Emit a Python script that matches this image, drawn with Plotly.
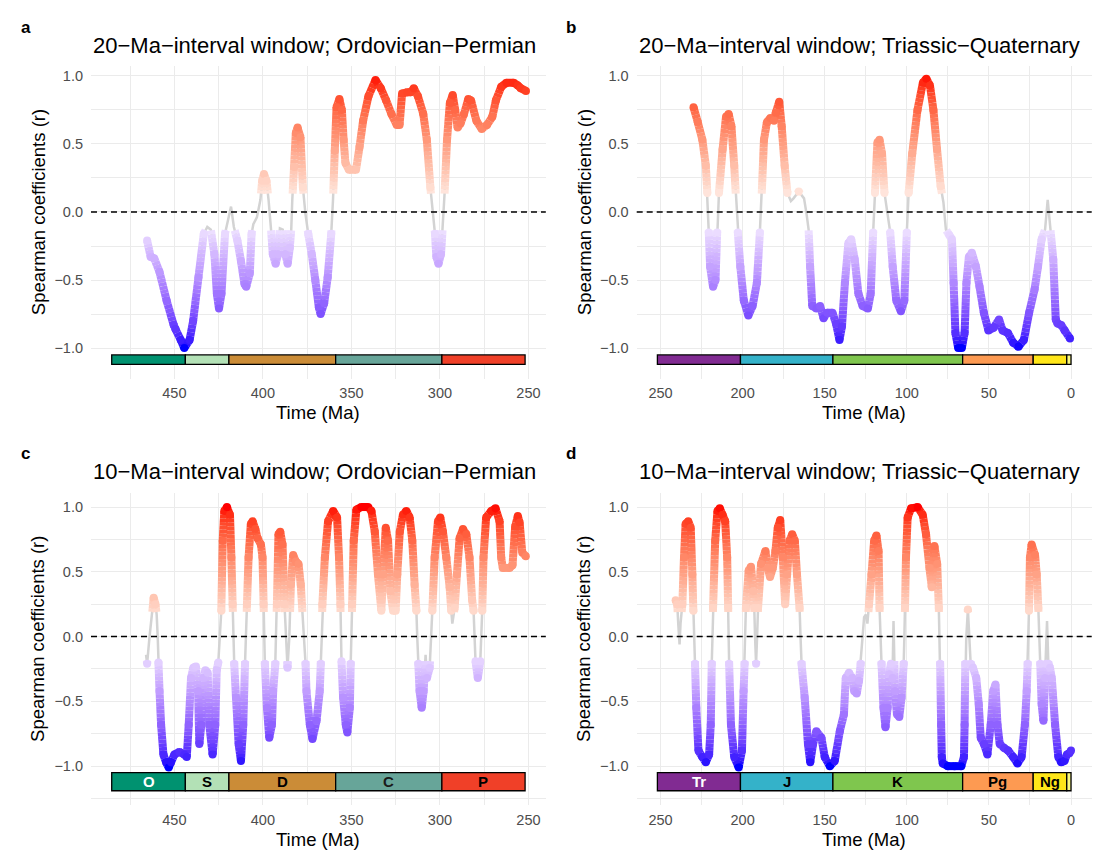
import math
import plotly.graph_objects as go

# ---------------- data ----------------
A_TIME = [465.4, 463.4, 461.4, 458.4, 454.4, 450.4, 449.4, 446.4, 444.4, 441.4, 439.4, 436.4, 433.4, 431.4,
          429.4, 427.4, 426.0, 424.8, 423.4, 421.4, 419.4, 418.0, 416.4, 414.4, 412.4, 410.4, 409.4, 407.4,
          406.4, 405.4, 403.4, 401.4, 400.4, 399.4, 398.0, 396.8, 395.4, 394.4, 392.8, 391.4, 390.4, 388.8,
          387.4, 386.0, 384.8, 384.0, 383.4, 382.4, 381.4, 380.4, 378.8, 377.4, 376.0, 374.4, 372.4, 370.4,
          368.4, 367.4, 365.4, 363.4, 361.4, 360.4, 359.4, 358.4, 356.8, 355.4, 354.4, 353.4, 351.4, 347.4,
          345.4, 343.4, 340.4, 336.4, 333.4, 330.4, 327.4, 324.4, 322.8, 321.4, 318.4, 316.4, 314.8, 312.4,
          309.4, 307.4, 305.4, 304.0, 302.8, 302.0, 300.8, 299.4, 298.4, 297.4, 296.0, 294.4, 292.8, 291.4,
          290.0, 288.4, 286.4, 284.0, 282.4, 279.4, 276.4, 273.4, 270.4, 268.4, 265.4, 262.4, 258.4, 256.0,
          254.4, 251.4]
A_R = [-0.21, -0.33, -0.34, -0.44, -0.65, -0.83, -0.86, -0.94, -1.00, -0.94, -0.80, -0.48, -0.16, -0.11,
       -0.13, -0.31, -0.60, -0.71, -0.60, -0.16, -0.04, 0.04, -0.11, -0.21, -0.36, -0.53, -0.55, -0.45,
       -0.16, -0.09, -0.04, 0.09, 0.23, 0.28, 0.23, 0.09, -0.13, -0.31, -0.38, -0.31, -0.12, -0.13,
       -0.31, -0.38, -0.26, -0.13, 0.09, 0.33, 0.58, 0.62, 0.55, 0.18, -0.01, -0.16, -0.31, -0.50,
       -0.70, -0.75, -0.67, -0.48, -0.16, 0.09, 0.45, 0.77, 0.83, 0.75, 0.53, 0.36, 0.31, 0.31,
       0.48, 0.67, 0.85, 0.97, 0.91, 0.82, 0.72, 0.64, 0.64, 0.87, 0.88, 0.88, 0.91, 0.85,
       0.72, 0.53, 0.18, -0.01, -0.16, -0.33, -0.38, -0.31, -0.11, 0.13, 0.53, 0.80, 0.86, 0.75,
       0.62, 0.65, 0.72, 0.83, 0.82, 0.67, 0.61, 0.64, 0.70, 0.82, 0.92, 0.95, 0.95, 0.93,
       0.91, 0.89]

B_TIME = [229.9, 227.3, 224.5, 222.4, 221.5, 220.6, 219.8, 218.0, 216.5, 215.5, 214.4, 212.2, 210.1, 208.5,
          206.8, 205.1, 204.0, 202.9, 201.4, 199.3, 196.5, 193.9, 191.3, 189.5, 188.5, 187.0, 185.2, 183.1,
          180.9, 179.8, 177.7, 176.2, 174.4, 172.7, 170.6, 169.0, 165.8, 162.6, 161.1, 159.8, 158.9, 157.6,
          155.0, 152.8, 150.7, 148.5, 145.3, 143.1, 141.0, 139.5, 137.7, 135.6, 133.9, 131.7, 129.5, 126.9,
          123.7, 122.0, 120.5, 119.4, 117.9, 116.6, 115.1, 113.6, 111.8, 110.1, 108.6, 106.4, 103.6, 101.5,
          100.0, 98.9, 96.7, 93.5, 90.2, 88.1, 85.9, 83.8, 81.6, 79.4, 77.7, 76.2, 74.1, 72.5,
          71.5, 70.4, 68.7, 66.5, 64.8, 63.7, 62.2, 60.4, 57.9, 55.7, 53.1, 50.3, 47.1, 43.8,
          41.7, 38.4, 35.2, 32.0, 28.7, 25.5, 22.2, 20.1, 17.9, 15.8, 14.2, 12.5, 10.8, 9.3,
          8.2, 6.0, 3.9, 0.6]
B_R = [0.77, 0.66, 0.53, 0.34, 0.14, -0.15, -0.40, -0.55, -0.50, -0.15, 0.14, 0.46, 0.70, 0.72,
       0.63, 0.34, 0.09, -0.15, -0.40, -0.65, -0.76, -0.69, -0.52, -0.15, 0.09, 0.53, 0.66, 0.69,
       0.67, 0.73, 0.81, 0.63, 0.34, 0.14, 0.08, 0.10, 0.15, 0.10, -0.01, -0.13, -0.40, -0.69,
       -0.71, -0.69, -0.78, -0.74, -0.74, -0.82, -0.94, -0.84, -0.52, -0.23, -0.20, -0.35, -0.60, -0.69,
       -0.71, -0.60, -0.15, 0.14, 0.51, 0.53, 0.43, 0.14, -0.03, -0.15, -0.40, -0.65, -0.73, -0.65,
       -0.15, 0.14, 0.43, 0.75, 0.95, 0.98, 0.93, 0.75, 0.46, 0.19, 0.07, -0.13, -0.17, -0.20,
       -0.52, -0.89, -1.00, -1.00, -0.89, -0.52, -0.33, -0.30, -0.40, -0.55, -0.74, -0.87, -0.85, -0.79,
       -0.87, -0.89, -0.96, -0.99, -0.94, -0.74, -0.57, -0.40, -0.20, -0.13, 0.09, -0.13, -0.35, -0.79,
       -0.82, -0.83, -0.87, -0.93]

C_TIME = [466.0, 465.4, 464.1, 462.6, 461.7, 460.7, 460.0, 459.4, 459.0, 458.4, 457.5, 456.2, 454.7, 453.2,
          451.9, 450.0, 447.2, 444.4, 443.0, 441.9, 440.6, 439.3, 437.8, 436.6, 435.9, 434.8, 433.6, 432.5,
          431.2, 430.3, 428.4, 426.9, 426.1, 425.2, 424.2, 423.5, 422.7, 421.8, 420.3, 418.6, 417.8, 417.1,
          416.5, 416.2, 415.2, 413.7, 412.4, 411.1, 410.1, 409.6, 409.0, 408.1, 406.8, 405.8, 404.3, 403.0,
          401.1, 400.2, 399.6, 399.2, 398.9, 397.7, 396.4, 394.9, 394.2, 393.0, 392.7, 392.1, 391.2, 390.2,
          388.9, 387.8, 387.0, 386.1, 385.1, 384.2, 382.9, 381.4, 379.9, 378.6, 377.6, 376.7, 375.9, 375.4,
          373.5, 372.0, 369.7, 367.9, 367.3, 366.9, 366.4, 365.0, 363.2, 360.3, 358.1, 357.0, 356.2, 356.0,
          355.6, 354.7, 353.2, 352.3, 350.9, 350.4, 350.0, 349.6, 348.7, 347.2, 344.4, 340.6, 338.7, 336.8,
          335.0, 333.1, 332.1, 330.6, 329.3, 328.0, 326.5, 325.0, 324.1, 322.7, 320.9, 319.0, 317.1, 315.6,
          314.3, 313.3, 312.8, 312.2, 311.5, 310.3, 309.2, 308.1, 307.3, 305.8, 304.9, 304.3, 303.0, 301.1,
          299.8, 298.3, 296.4, 294.5, 293.6, 293.0, 291.7, 290.4, 288.9, 287.0, 285.1, 283.3, 281.8, 281.0,
          280.4, 279.9, 278.6, 277.2, 276.7, 276.1, 275.4, 273.9, 271.0, 268.6, 266.3, 265.4, 264.5, 260.7,
          259.0, 257.5, 256.0, 255.0, 253.5, 251.5]
C_R = [-0.14, -0.21, -0.01, 0.17, 0.30, 0.25, 0.17, -0.01, -0.20, -0.42, -0.68, -0.91, -0.97, -1.01,
       -0.97, -0.91, -0.89, -0.91, -0.93, -0.68, -0.32, -0.24, -0.23, -0.42, -0.83, -0.68, -0.32, -0.26,
       -0.28, -0.68, -0.91, -0.68, -0.26, -0.20, -0.01, 0.20, 0.74, 0.97, 1.00, 0.94, 0.61, 0.25,
       -0.01, -0.21, -0.47, -0.83, -0.96, -0.68, -0.21, -0.01, 0.25, 0.61, 0.87, 0.89, 0.83, 0.76,
       0.71, 0.61, 0.25, -0.01, -0.21, -0.55, -0.78, -0.68, -0.42, -0.21, -0.01, 0.25, 0.79, 0.81,
       0.71, 0.25, -0.01, -0.24, -0.01, 0.40, 0.63, 0.58, 0.56, 0.40, 0.17, -0.03, -0.21, -0.42,
       -0.68, -0.79, -0.65, -0.42, -0.21, -0.01, 0.25, 0.61, 0.89, 0.97, 0.92, 0.61, 0.25, -0.01,
       -0.19, -0.47, -0.68, -0.74, -0.55, -0.21, -0.01, 0.25, 0.74, 0.98, 1.00, 1.00, 0.97, 0.81,
       0.48, 0.20, 0.48, 0.84, 0.74, 0.35, 0.20, 0.20, 0.48, 0.81, 0.94, 0.97, 0.92, 0.74,
       0.40, 0.20, -0.01, -0.21, -0.42, -0.55, -0.42, -0.14, -0.32, -0.24, -0.01, 0.20, 0.61, 0.89,
       0.92, 0.81, 0.61, 0.38, 0.20, 0.10, 0.22, 0.48, 0.76, 0.83, 0.79, 0.61, 0.28, 0.20,
       -0.01, -0.19, -0.32, -0.19, -0.01, 0.20, 0.61, 0.92, 0.97, 0.99, 0.89, 0.61, 0.53, 0.53,
       0.55, 0.85, 0.93, 0.88, 0.65, 0.62]

D_TIME = [240.8, 239.8, 239.2, 238.4, 237.8, 236.7, 235.7, 234.7, 233.1, 231.6, 230.6, 230.0, 229.6, 229.0,
          228.2, 226.9, 224.5, 222.4, 220.4, 219.4, 218.8, 218.4, 218.0, 216.7, 215.3, 213.9, 212.2, 210.6,
          209.4, 208.8, 208.6, 208.2, 207.1, 205.1, 202.4, 200.4, 199.4, 198.8, 198.4, 198.0, 196.3, 194.9,
          193.5, 192.9, 192.4, 191.8, 191.2, 190.6, 188.8, 186.1, 184.7, 183.3, 181.6, 180.0, 178.6, 177.1,
          175.5, 174.1, 172.9, 171.4, 169.8, 168.2, 166.9, 165.3, 164.7, 164.1, 162.2, 160.2, 158.8, 157.1,
          155.1, 152.0, 150.0, 146.9, 143.9, 140.8, 138.3, 137.2, 135.2, 133.2, 132.1, 130.5, 129.1, 128.1,
          127.0, 126.0, 125.0, 124.0, 123.0, 121.5, 119.9, 118.5, 117.2, 116.6, 116.2, 115.4, 114.2, 113.0,
          111.7, 110.7, 109.7, 108.7, 108.1, 107.2, 106.0, 104.6, 103.2, 101.9, 101.5, 101.1, 100.5, 99.5,
          97.4, 93.4, 90.3, 88.3, 86.2, 84.8, 83.2, 81.5, 80.5, 80.1, 79.7, 79.1, 78.7, 78.1,
          75.0, 70.9, 66.8, 65.2, 64.8, 64.4, 63.8, 62.8, 62.1, 61.1, 59.7, 57.7, 56.2, 55.0,
          53.0, 50.9, 48.9, 47.4, 46.0, 44.8, 43.4, 40.7, 38.3, 35.2, 32.6, 30.1, 28.1, 27.0,
          26.4, 26.0, 25.6, 25.0, 24.0, 21.9, 20.9, 19.9, 19.3, 18.7, 17.9, 16.8, 15.8, 15.2,
          14.6, 13.8, 12.8, 11.7, 9.7, 7.7, 6.0, 4.0, 2.5, 1.0, 0.0]
D_R = [0.28, 0.25, 0.10, -0.06, 0.10, 0.25, 0.61, 0.87, 0.89, 0.84, 0.48, 0.20, -0.01, -0.21,
       -0.55, -0.88, -0.93, -0.97, -0.91, -0.68, -0.21, -0.01, 0.22, 0.74, 0.97, 0.99, 0.94, 0.89,
       0.61, 0.22, -0.01, -0.21, -0.68, -0.93, -1.01, -0.88, -0.42, -0.21, -0.01, 0.22, 0.51, 0.54,
       0.35, 0.22, -0.01, -0.21, -0.01, 0.22, 0.56, 0.66, 0.53, 0.46, 0.53, 0.66, 0.84, 0.90,
       0.61, 0.25, 0.48, 0.74, 0.79, 0.74, 0.48, 0.22, -0.01, -0.21, -0.47, -0.83, -0.97, -0.83,
       -0.73, -0.78, -0.93, -1.00, -0.96, -0.73, -0.60, -0.32, -0.28, -0.32, -0.42, -0.44, -0.34, -0.21,
       -0.01, 0.15, 0.17, 0.10, 0.25, 0.48, 0.74, 0.78, 0.66, 0.22, -0.01, -0.21, -0.55, -0.70,
       -0.55, -0.29, -0.21, -0.32, 0.12, -0.42, -0.60, -0.62, -0.47, -0.21, -0.01, 0.22, 0.61, 0.92,
       0.99, 1.00, 0.94, 0.79, 0.53, 0.38, 0.70, 0.56, 0.22, -0.01, -0.21, -0.68, -0.93, -0.98,
       -1.00, -1.00, -1.00, -0.93, -0.68, -0.21, -0.01, 0.21, -0.01, -0.21, -0.24, -0.32, -0.52, -0.78,
       -0.83, -0.91, -0.68, -0.42, -0.37, -0.68, -0.83, -0.86, -0.88, -0.93, -0.98, -0.93, -0.68, -0.42,
       -0.21, -0.01, 0.20, 0.61, 0.71, 0.63, 0.48, 0.22, -0.01, -0.21, -0.52, -0.65, -0.32, -0.21,
       0.12, -0.21, -0.24, -0.32, -0.68, -0.93, -0.97, -0.96, -0.91, -0.90, -0.88]

PALEO_NAMES = ["O", "S", "D", "C", "P"]
PALEO_START = [485.4, 443.8, 419.2, 358.9, 298.9]
PALEO_END = [443.8, 419.2, 358.9, 298.9, 251.9]
PALEO_COLORS = ["#009270", "#B3E1B6", "#CB8C37", "#67A599", "#F04028"]
PALEO_TEXT = ["#FFFFFF", "#000000", "#000000", "#1A1A1A", "#000000"]

MESO_NAMES = ["Tr", "J", "K", "Pg", "Ng", ""]
MESO_START = [251.9, 201.3, 145.0, 66.0, 23.03, 2.58]
MESO_END = [201.3, 145.0, 66.0, 23.03, 2.58, 0.0]
MESO_COLORS = ["#812B92", "#34B2C9", "#7FC64E", "#FD9A52", "#FFE619", "#F9F97F"]
MESO_TEXT = ["#FFFFFF", "#000000", "#000000", "#000000", "#000000", "#000000"]

TITLES = ["20\u2212Ma\u2212interval window; Ordovician\u2212Permian",
          "20\u2212Ma\u2212interval window; Triassic\u2212Quaternary",
          "10\u2212Ma\u2212interval window; Ordovician\u2212Permian",
          "10\u2212Ma\u2212interval window; Triassic\u2212Quaternary"]
LETTERS = ["a", "b", "c", "d"]
Y_TICKS = [-1.0, -0.5, 0.0, 0.5, 1.0]
Y_TICK_TEXT = ["\u22121.0", "\u22120.5", "0.0", "0.5", "1.0"]

# ---------------- colour scale (gradient2 blue-white-red, Lab interpolation) ----------------
def _lin(c):
    return c / 12.92 if c <= 0.04045 else ((c + 0.055) / 1.055) ** 2.4

def _unlin(c):
    c = 12.92 * c if c <= 0.0031308 else 1.055 * (c ** (1 / 2.4)) - 0.055
    return min(1.0, max(0.0, c))

WN = (0.95047, 1.0, 1.08883)

def hex_to_lab(h):
    r, g, b = [_lin(int(h[i:i + 2], 16) / 255) for i in (1, 3, 5)]
    X = 0.4124564 * r + 0.3575761 * g + 0.1804375 * b
    Y = 0.2126729 * r + 0.7151522 * g + 0.0721750 * b
    Z = 0.0193339 * r + 0.1191920 * g + 0.9503041 * b
    def f(t):
        return t ** (1 / 3) if t > 0.008856 else 7.787 * t + 16 / 116
    fx, fy, fz = f(X / WN[0]), f(Y / WN[1]), f(Z / WN[2])
    return (116 * fy - 16, 500 * (fx - fy), 200 * (fy - fz))

def lab_to_hex(L, a, b):
    fy = (L + 16) / 116
    fx = fy + a / 500
    fz = fy - b / 200
    def finv(t):
        return t ** 3 if t > 0.206893 else (t - 16 / 116) / 7.787
    X, Y, Z = WN[0] * finv(fx), WN[1] * finv(fy), WN[2] * finv(fz)
    r = 3.2404542 * X - 1.5371385 * Y - 0.4985314 * Z
    g = -0.9692660 * X + 1.8760108 * Y + 0.0415560 * Z
    bb = 0.0556434 * X - 0.2040259 * Y + 1.0572252 * Z
    return "#%02X%02X%02X" % tuple(int(round(_unlin(v) * 255)) for v in (r, g, bb))

LAB_LOW = hex_to_lab("#0000FF")
LAB_MID = hex_to_lab("#FFFFFF")
LAB_HIGH = hex_to_lab("#FF0000")

def r_color(v):
    v = max(-1.0, min(1.0, v))
    end = LAB_HIGH if v >= 0 else LAB_LOW
    w = abs(v)
    return lab_to_hex(*[LAB_MID[i] + (end[i] - LAB_MID[i]) * w for i in range(3)])

# ---------------- layout geometry ----------------
W, H = 1110, 854
def px(x):
    return x / W
def py(y):
    return 1 - y / H

COL_X = [(91.0, 545.8), (636.7, 1091.7)]
ROW_Y = [(65.7, 378.7), (492.8, 805.0)]

PANELS = [
    dict(T=A_TIME, R=A_R, thr=0.135, xr=[497.1, 240.2], yr=[-1.225, 1.075], bar=(-1.05, -1.12),
         per=(PALEO_NAMES, PALEO_START, PALEO_END, PALEO_COLORS, PALEO_TEXT), labels=False,
         xt=[450, 400, 350, 300, 250], xm=[475, 425, 375, 325, 275], ym=[-0.75, -0.25, 0.25, 0.75], col=0, row=0),
    dict(T=B_TIME, R=B_R, thr=0.135, xr=[264.5, -12.6], yr=[-1.225, 1.075], bar=(-1.05, -1.12),
         per=(MESO_NAMES, MESO_START, MESO_END, MESO_COLORS, MESO_TEXT), labels=False,
         xt=[250, 200, 150, 100, 50, 0], xm=[225, 175, 125, 75, 25], ym=[-0.75, -0.25, 0.25, 0.75], col=1, row=0),
    dict(T=C_TIME, R=C_R, thr=0.19, xr=[497.1, 240.2], yr=[-1.30, 1.11], bar=(-1.05, -1.19),
         per=(PALEO_NAMES, PALEO_START, PALEO_END, PALEO_COLORS, PALEO_TEXT), labels=True,
         xt=[450, 400, 350, 300, 250], xm=[475, 425, 375, 325, 275], ym=[-1.25, -0.75, -0.25, 0.25, 0.75], col=0, row=1),
    dict(T=D_TIME, R=D_R, thr=0.19, xr=[264.5, -12.6], yr=[-1.30, 1.11], bar=(-1.05, -1.19),
         per=(MESO_NAMES, MESO_START, MESO_END, MESO_COLORS, MESO_TEXT), labels=True,
         xt=[250, 200, 150, 100, 50, 0], xm=[225, 175, 125, 75, 25], ym=[-1.25, -0.75, -0.25, 0.25, 0.75], col=1, row=1),
]

FONT = "Liberation Sans, Arial, sans-serif"
STROKE = 8

fig = go.Figure()
shapes = []
annotations = []
layout_axes = {}

for k, p in enumerate(PANELS):
    n = k + 1
    xa = "x" if n == 1 else "x%d" % n
    ya = "y" if n == 1 else "y%d" % n
    T, R, thr = p["T"], p["R"], p["thr"]

    # grey base line
    fig.add_trace(go.Scatter(x=T, y=R, xaxis=xa, yaxis=ya, mode="lines",
                             line=dict(color="#D3D3D3", width=2.5),
                             hoverinfo="skip", showlegend=False))

    # coloured stroke where |r| exceeds the threshold (gradient drawn in short pieces)
    groups = {}
    for i in range(len(T) - 1):
        t0, r0, t1, r1 = T[i], R[i], T[i + 1], R[i + 1]
        for sign in (1, -1):
            a0, a1 = sign * r0 - thr, sign * r1 - thr
            if a0 < 0 and a1 < 0:
                continue
            if a0 >= 0 and a1 >= 0:
                s0, s1 = 0.0, 1.0
            elif a0 >= 0:
                s0, s1 = 0.0, a0 / (a0 - a1)
            else:
                s0, s1 = a0 / (a0 - a1), 1.0
            ra, rb = r0 + (r1 - r0) * s0, r0 + (r1 - r0) * s1
            m = max(1, int(math.ceil(abs(rb - ra) / 0.03)))
            for j in range(m):
                u0 = s0 + (s1 - s0) * j / m
                u1 = s0 + (s1 - s0) * (j + 1) / m
                rm = r0 + (r1 - r0) * (u0 + u1) / 2
                key = int(round(rm / 0.02))
                xs, ys = groups.setdefault(key, ([], []))
                xs += [t0 + (t1 - t0) * u0, t0 + (t1 - t0) * u1, None]
                ys += [r0 + (r1 - r0) * u0, r0 + (r1 - r0) * u1, None]
    for key in sorted(groups):
        xs, ys = groups[key]
        fig.add_trace(go.Scatter(x=xs, y=ys, xaxis=xa, yaxis=ya, mode="lines",
                                 line=dict(color=r_color(key * 0.02), width=STROKE),
                                 hoverinfo="skip", showlegend=False))
    nx = [t for t, r in zip(T, R) if abs(r) >= thr]
    ny = [r for r in R if abs(r) >= thr]
    nc = [r_color(r) for r in ny]
    fig.add_trace(go.Scatter(x=nx, y=ny, xaxis=xa, yaxis=ya, mode="markers",
                             marker=dict(size=STROKE, color=nc, line=dict(width=0)),
                             hoverinfo="skip", showlegend=False))

    # zero line
    shapes.append(dict(type="line", xref=xa + " domain", yref=ya, x0=0, x1=1, y0=0, y1=0,
                       line=dict(color="black", width=1.5, dash="6px,4px"), layer="above"))

    # geological time bar
    names, starts, ends, cols, tcols = p["per"]
    y0b, y1b = p["bar"]
    for nm, s, e, c, tc in zip(names, starts, ends, cols, tcols):
        shapes.append(dict(type="rect", xref=xa, yref=ya, x0=s, x1=e, y0=y0b, y1=y1b,
                           fillcolor=c, line=dict(color="black", width=1.3), layer="above"))
        if p["labels"] and nm:
            annotations.append(dict(xref=xa, yref=ya, x=(s + e) / 2, y=(y0b + y1b) / 2,
                                    text="<b>%s</b>" % nm, showarrow=False,
                                    font=dict(family=FONT, size=15, color=tc),
                                    xanchor="center", yanchor="middle"))

    x0p, x1p = COL_X[p["col"]]
    y0p, y1p = ROW_Y[p["row"]]
    axis_common = dict(showline=False, zeroline=False, ticks="", showgrid=True,
                       gridcolor="#EBEBEB", gridwidth=1.1,
                       tickfont=dict(family=FONT, size=14.5, color="#4D4D4D"), automargin=False)
    layout_axes["xaxis" if n == 1 else "xaxis%d" % n] = dict(
        domain=[px(x0p), px(x1p)], anchor=ya, range=p["xr"],
        tickmode="array", tickvals=p["xt"], ticktext=[str(v) for v in p["xt"]],
        minor=dict(tickmode="array", tickvals=p["xm"], showgrid=True, gridcolor="#EBEBEB", gridwidth=0.6),
        ticklabelstandoff=4, **axis_common)
    layout_axes["yaxis" if n == 1 else "yaxis%d" % n] = dict(
        domain=[py(y1p), py(y0p)], anchor=xa, range=p["yr"],
        tickmode="array", tickvals=Y_TICKS, ticktext=Y_TICK_TEXT,
        minor=dict(tickmode="array", tickvals=p["ym"], showgrid=True, gridcolor="#EBEBEB", gridwidth=0.6),
        ticklabelstandoff=7, **axis_common)

    # texts: letter, title, axis titles
    lx = 19 if p["col"] == 0 else 564
    ly = 27 if p["row"] == 0 else 453
    annotations.append(dict(xref="paper", yref="paper", x=px(lx), y=py(ly), text="<b>%s</b>" % LETTERS[k],
                            showarrow=False, xanchor="left", yanchor="middle",
                            font=dict(family=FONT, size=17, color="black")))
    ty = 46 if p["row"] == 0 else 472
    annotations.append(dict(xref="paper", yref="paper", x=px(x0p), y=py(ty), text=TITLES[k],
                            showarrow=False, xanchor="left", yanchor="middle",
                            font=dict(family=FONT, size=22, color="black")))
    annotations.append(dict(xref="paper", yref="paper", x=px((x0p + x1p) / 2), y=py(y1p + 34),
                            text="Time (Ma)", showarrow=False, xanchor="center", yanchor="middle",
                            font=dict(family=FONT, size=18.5, color="black")))
    annotations.append(dict(xref="paper", yref="paper", x=px(38 if p["col"] == 0 else 584),
                            y=py((y0p + y1p) / 2 - 10), text="Spearman coefficients (r)", textangle=-90,
                            showarrow=False, xanchor="center", yanchor="middle",
                            font=dict(family=FONT, size=18.5, color="black")))

fig.update_layout(width=W, height=H, margin=dict(l=0, r=0, t=0, b=0),
                  paper_bgcolor="white", plot_bgcolor="white", template="none",
                  showlegend=False, shapes=shapes, annotations=annotations,
                  font=dict(family=FONT), **layout_axes)

fig.write_html("out.html")
